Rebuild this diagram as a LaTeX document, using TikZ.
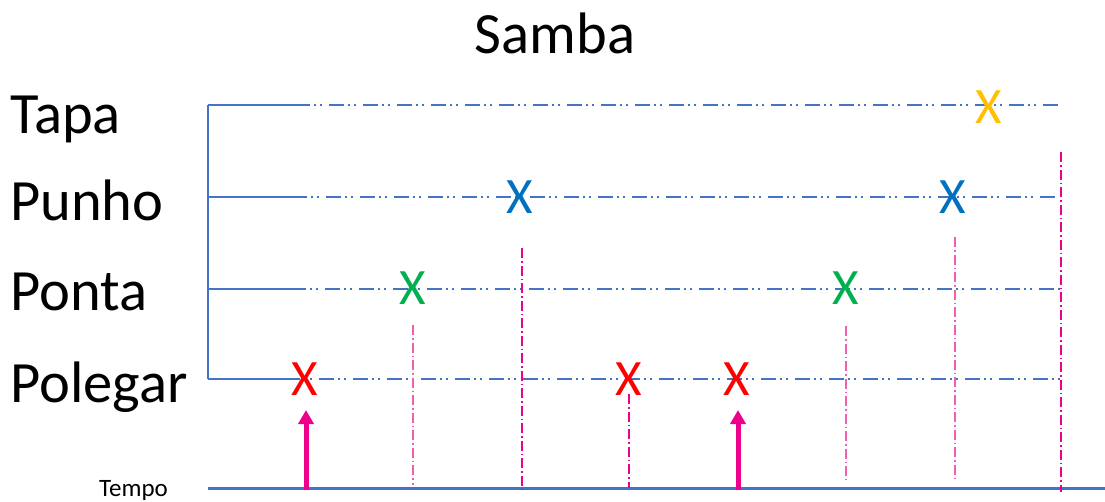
\documentclass[tikz,border=0pt]{standalone}
\usepackage{fontspec}
\setmainfont{Carlito}
\usetikzlibrary{arrows.meta}
\definecolor{lineblue}{HTML}{4472C4}
\definecolor{xred}{HTML}{FF0000}
\definecolor{xgreen}{HTML}{00B050}
\definecolor{xblue}{HTML}{0070C0}
\definecolor{xyellow}{HTML}{FFC000}
\definecolor{pinkline}{HTML}{EC008C}
\definecolor{pinklight}{HTML}{F060B0}
\tikzset{
  lbl/.style={anchor=base west, inner sep=0pt, font=\fontsize{58.5}{62}\selectfont},
  xmark/.style={inner sep=0pt, font=\fontsize{51}{54}\selectfont},
  solidrow/.style={draw=lineblue, line width=1.6pt},
  dashrow/.style={draw=lineblue, line width=1.8pt, dash pattern=on 2pt off 4pt on 2pt off 7pt on 15pt off 4pt, dash phase=-4pt},
  beatline/.style={draw=pinkline, line width=1.5pt, dash pattern=on 10pt off 3pt on 1.5pt off 3pt},
  beatlight/.style={draw=pinklight, line width=1.5pt, dash pattern=on 10pt off 3pt on 1.5pt off 3pt},
  axis/.style={draw=lineblue, line width=3pt},
  beatarrow/.style={draw=pinkline, line width=5pt, -{Triangle[width=15pt,length=14pt]}}
}
\begin{document}
\begin{tikzpicture}[x=1pt,y=-1pt]
\useasboundingbox (0,0) rectangle (1105,501);

% title and labels
\node[lbl, anchor=base] (title) at (555,53) {Samba};
\node[lbl] (tapa) at (10,133) {Tapa};
\node[lbl] (punho) at (10,220) {Punho};
\node[lbl] (ponta) at (10,310) {Ponta};
\node[lbl] (polegar) at (10,402) {Polegar};
\node[anchor=base west, inner sep=0pt, font=\fontsize{25}{28}\selectfont] (tempo) at (99,496) {Tempo};

% row coordinates
\coordinate (tapaL) at (208,105);  \coordinate (tapaM) at (310,105);  \coordinate (tapaR) at (1060,105);
\coordinate (punL) at (208,197);   \coordinate (punM) at (307,197);   \coordinate (punR) at (1058,197);
\coordinate (ponL) at (208,289);   \coordinate (ponM) at (306,289);   \coordinate (ponR) at (1061,289);
\coordinate (polL) at (208,379);   \coordinate (polM) at (300,379);   \coordinate (polR) at (1061,379);

% left bracket and rows
\draw[solidrow] (tapaL) -- (polL);
\draw[solidrow] (tapaL) -- (tapaM);
\draw[solidrow] (punL) -- (punM);
\draw[solidrow] (ponL) -- (ponM);
\draw[solidrow] (polL) -- (polM);
\path[dashrow] (tapaM) -- (tapaR);
\path[dashrow] (punM) -- (punR);
\path[dashrow] (ponM) -- (ponR);
\path[dashrow] (polM) -- (polR);

% time axis
\coordinate (axL) at (208,488);
\coordinate (axR) at (1105,488);
\draw[axis] (axL) -- (axR);

% beat guide lines
\coordinate (b1t) at (413,325);  \coordinate (b1b) at (413,485);
\coordinate (b2t) at (522,248);  \coordinate (b2b) at (522,492);
\coordinate (b3t) at (629,394);  \coordinate (b3b) at (629,488);
\coordinate (b4t) at (846,326);  \coordinate (b4b) at (846,480);
\coordinate (b5t) at (955,237);  \coordinate (b5b) at (955,481);
\coordinate (b6t) at (1061,152); \coordinate (b6b) at (1061,492);
\path[beatlight] (b1t) -- (b1b);
\path[beatline] (b2t) -- (b2b);
\path[beatline] (b3t) -- (b3b);
\path[beatlight] (b4t) -- (b4b);
\path[beatlight] (b5t) -- (b5b);
\path[beatline] (b6t) -- (b6b);

% arrows
\coordinate (a1s) at (306,490); \coordinate (a1t) at (306,410);
\coordinate (a2s) at (738,490); \coordinate (a2t) at (738,410);
\draw[beatarrow] (a1s) -- (a1t);
\draw[beatarrow] (a2s) -- (a2t);

% marks
\node[xmark, text=xred] (r1) at (305,379) {X};
\node[xmark, text=xred] (r2) at (629,379) {X};
\node[xmark, text=xred] (r3) at (737,379) {X};
\node[xmark, text=xgreen] (g1) at (413,288) {X};
\node[xmark, text=xgreen] (g2) at (846,288) {X};
\node[xmark, text=xblue] (u1) at (520,197) {X};
\node[xmark, text=xblue] (u2) at (953,197) {X};
\node[xmark, text=xyellow] (y1) at (989,107) {X};
\end{tikzpicture}
\end{document}
